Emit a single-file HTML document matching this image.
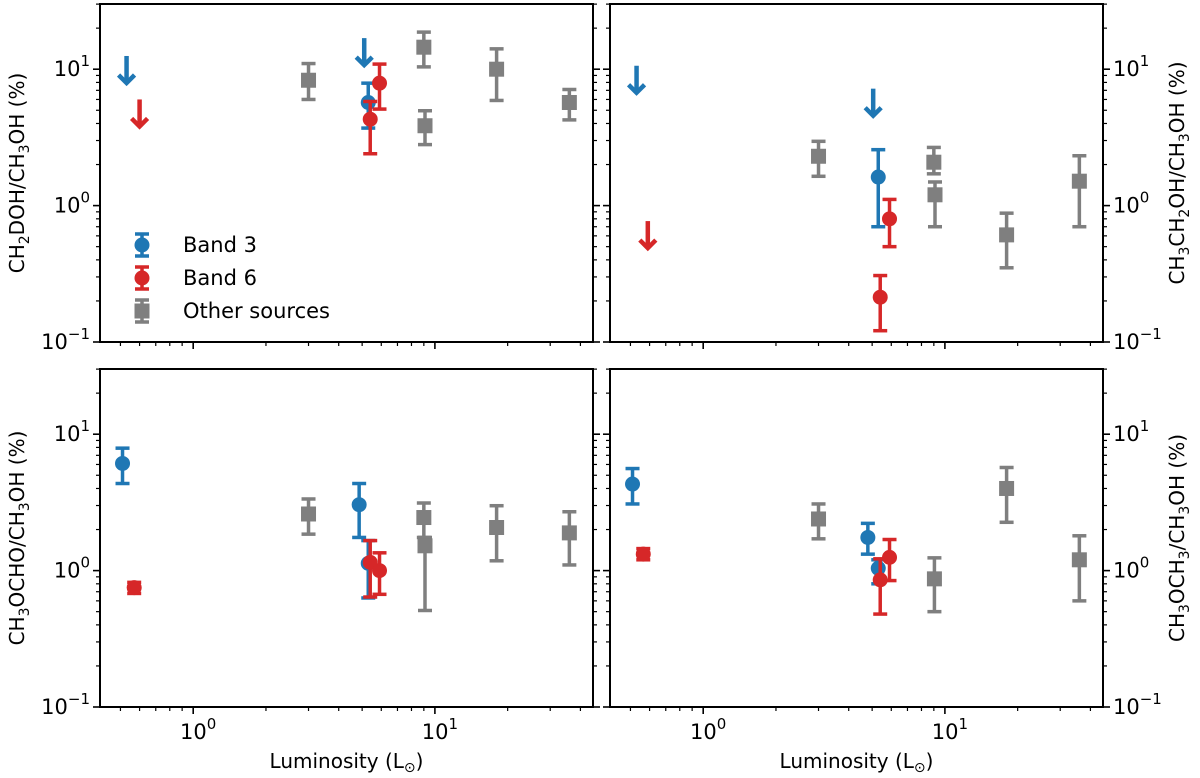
<!DOCTYPE html>
<html><head><meta charset="utf-8">
<style>
html,body{margin:0;padding:0;background:#fff;}
svg{display:block;font-family:"DejaVu Sans","Liberation Sans",sans-serif;}
</style></head>
<body>
<svg id="fig" width="1200" height="778" viewBox="0 0 1200 778" xmlns="http://www.w3.org/2000/svg"></svg>
<script>
// ---- data ----
const otherL = [3.0, 9.0, 9.1, 18, 36];
const otherL4 = [3.0, 9.05, 18, 36];

const p1OtherVal = [8.3, 14.5, 3.85, 10, 5.7];
const p1OtherLo = [6.0, 10.4, 2.8, 5.9, 4.25];
const p1OtherHi = [11, 18.7, 4.96, 14.1, 7.1];
const p1B3L = [0.53, 5.1, 5.3];
const p1B3Val = [12.5, 16.9, 5.7];
const p1B3Lo = [null, null, 3.7];
const p1B3Hi = [null, null, 7.9];
const p1B3Up = [1, 1, 0];
const p1B6L = [0.6, 5.4, 5.9];
const p1B6Val = [6.0, 4.3, 7.9];
const p1B6Lo = [null, 2.4, 5.1];
const p1B6Hi = [null, 5.8, 10.9];
const p1B6Up = [1, 0, 0];

const p2OtherVal = [2.3, 2.08, 1.2, 0.61, 1.51];
const p2OtherLo = [1.64, 1.71, 0.70, 0.35, 0.70];
const p2OtherHi = [2.96, 2.67, 1.49, 0.88, 2.32];
const p2B3L = [0.53, 5.05, 5.3];
const p2B3Val = [10.6, 7.2, 1.62];
const p2B3Lo = [null, null, 0.70];
const p2B3Hi = [null, null, 2.57];
const p2B3Up = [1, 1, 0];
const p2B6L = [0.59, 5.4, 5.9];
const p2B6Val = [0.77, 0.213, 0.80];
const p2B6Lo = [null, 0.121, 0.50];
const p2B6Hi = [null, 0.307, 1.11];
const p2B6Up = [1, 0, 0];

const p3OtherVal = [2.6, 2.45, 1.52, 2.07, 1.89];
const p3OtherLo = [1.85, 1.75, 0.51, 1.18, 1.10];
const p3OtherHi = [3.35, 3.13, 1.75, 2.99, 2.7];
const p3B3L = [0.51, 4.86, 5.3];
const p3B3Val = [6.1, 3.04, 1.13];
const p3B3Lo = [4.35, 1.75, 0.63];
const p3B3Hi = [7.9, 4.35, 1.66];
const p3B3Up = [0, 0, 0];
const p3B6L = [0.57, 5.4, 5.9];
const p3B6Val = [0.75, 1.15, 1.0];
const p3B6Lo = [0.68, 0.64, 0.67];
const p3B6Hi = [0.82, 1.66, 1.35];
const p3B6Up = [0, 0, 0];

const p4OtherVal = [2.39, 0.87, 4.0, 1.2];
const p4OtherLo = [1.71, 0.50, 2.26, 0.60];
const p4OtherHi = [3.08, 1.24, 5.7, 1.8];
const p4B3L = [0.51, 4.8, 5.3];
const p4B3Val = [4.31, 1.75, 1.04];
const p4B3Lo = [3.08, 1.32, 0.80];
const p4B3Hi = [5.6, 2.22, 1.2];
const p4B3Up = [0, 0, 0];
const p4B6L = [0.565, 5.4, 5.9];
const p4B6Val = [1.32, 0.855, 1.25];
const p4B6Lo = [1.2, 0.48, 0.845];
const p4B6Hi = [1.45, 1.22, 1.69];
const p4B6Up = [0, 0, 0];

const xTickVals = [1, 10];
const xTickExp = ["0", "1"];
const yTickVals = [10, 1, 0.1];
const yTickExp = ["1", "0", "\u22121"];

// ---- drawing ----
const NS = "http://www.w3.org/2000/svg";
const svg = document.getElementById("fig");
const BLUE = "#1f77b4", RED = "#d62728", GRAY = "#7f7f7f";
const W = 493, H = 338;
const XLMIN = -0.3856, XDEC = 241.7;
const YLMAX = 1.478, YDEC = 136.4;

function el(tag, attrs, parent) {
  const e = document.createElementNS(NS, tag);
  for (const k in attrs) e.setAttribute(k, attrs[k]);
  (parent || svg).appendChild(e);
  return e;
}
function makeX(p) { return v => p.left + (Math.log10(v) - XLMIN) * XDEC; }
function makeY(p) { return v => p.top + (YLMAX - Math.log10(v)) * YDEC; }

function powLabel(g, x, y, exp, anchor) {
  const t = el("text", {x: x, y: y, "font-size": 21, fill: "#000", "text-anchor": anchor}, g);
  const a = document.createElementNS(NS, "tspan"); a.textContent = "10"; t.appendChild(a);
  const b = document.createElementNS(NS, "tspan");
  b.setAttribute("dy", -10); b.setAttribute("font-size", 15); b.textContent = exp; t.appendChild(b);
  return t;
}

function drawPanel(p) {
  const g = el("g", {});
  
  
  const X = makeX(p), Y = makeY(p);
  const L = p.left, R = p.left + W, T = p.top, B = p.top + H;
  for (let d = -1; d <= 1; d++) {
    for (let m = 1; m <= 9; m++) {
      const v = m * Math.pow(10, d);
      if (v < 0.1 || Math.log10(v) > YLMAX) continue;
      const y = Y(v), len = m === 1 ? 7 : 4;
      el("line", {x1: L - len, x2: L, y1: y, y2: y, stroke: "#000", "stroke-width": m === 1 ? 1.6 : 1.2}, g);
      el("line", {x1: R, x2: R + len, y1: y, y2: y, stroke: "#000", "stroke-width": m === 1 ? 1.6 : 1.2}, g);
    }
  }
  for (let d = -1; d <= 1; d++) {
    for (let m = 1; m <= 9; m++) {
      const v = m * Math.pow(10, d);
      const lv = Math.log10(v);
      if (lv < XLMIN || lv > XLMIN + W / XDEC) continue;
      const x = X(v), len = m === 1 ? 7 : 4;
      el("line", {x1: x, x2: x, y1: B, y2: B + len, stroke: "#000", "stroke-width": m === 1 ? 1.6 : 1.2}, g);
    }
  }
  const fr = el("rect", {x: L, y: T, width: W, height: H, fill: "none", stroke: "#000", "stroke-width": 2}, g);
  
  
  yTickVals.forEach((v, i) => {
    const t = p.right ? powLabel(g, R + 10, Y(v) + 7, yTickExp[i], "start") : powLabel(g, L - 10, Y(v) + 7, yTickExp[i], "end");
    
    
  });
  if (p.bottom) {
    xTickVals.forEach((v, i) => {
      const t = powLabel(g, X(v) + 5, B + 32, xTickExp[i], "middle");
      
      
    });
    const xt = el("text", {x: L + W / 2, y: 768, "font-size": 20, "text-anchor": "middle", fill: "#000"}, g);
    xt.innerHTML = 'Luminosity (L<tspan font-size="14" dy="4">\u2299</tspan><tspan dy="-4">)</tspan>';
    
    
  }
  const tx = p.right ? 1184 : 24, ty = T + H / 2;
  const yt = el("text", {x: tx, y: ty, "font-size": 20, "text-anchor": "middle", fill: "#000", transform: "rotate(-90 " + tx + " " + ty + ")"}, g);
  yt.innerHTML = p.ytitle;
  
  

  drawSeries(g, X, Y, p.oL, p.oV, p.oLo, p.oHi, null, GRAY, "square", "other-sources-point");
  drawSeries(g, X, Y, p.b3L, p.b3V, p.b3Lo, p.b3Hi, p.b3Up, BLUE, "circle", "band3-point");
  drawSeries(g, X, Y, p.b6L, p.b6V, p.b6Lo, p.b6Hi, p.b6Up, RED, "circle", "band6-point");
}

function drawSeries(g, X, Y, Ls, Vs, Los, His, Ups, color, shape, name) {
  for (let i = 0; i < Ls.length; i++) {
    const sg = el("g", {}, g);
    
    
    const x = X(Ls[i]), y = Y(Vs[i]);
    if (Ups && Ups[i]) {
      const tip = y + 30;
      el("line", {x1: x, x2: x, y1: y, y2: tip - 5, stroke: color, "stroke-width": 4.5}, sg);
      el("polyline", {points: (x - 8) + "," + (tip - 11) + " " + x + "," + (tip - 3) + " " + (x + 8) + "," + (tip - 11), fill: "none", stroke: color, "stroke-width": 4.5, "stroke-linejoin": "miter"}, sg);
      continue;
    }
    if (Los[i] != null) {
      const y1 = Y(His[i]), y2 = Y(Los[i]);
      el("line", {x1: x, x2: x, y1: y1, y2: y2, stroke: color, "stroke-width": 3.5}, sg);
      el("line", {x1: x - 7, x2: x + 7, y1: y1, y2: y1, stroke: color, "stroke-width": 3.5}, sg);
      el("line", {x1: x - 7, x2: x + 7, y1: y2, y2: y2, stroke: color, "stroke-width": 3.5}, sg);
    }
    if (shape === "circle") el("circle", {cx: x, cy: y, r: 7.5, fill: color}, sg);
    else el("rect", {x: x - 7.5, y: y - 7.5, width: 15, height: 15, fill: color}, sg);
  }
}

const sub = s => '<tspan font-size="14" dy="5">' + s + '</tspan><tspan dy="-5">';
const panels = [
  {name: "panel-ch2doh", left: 100, top: 4, right: false, bottom: false,
   ytitle: 'CH' + sub('2') + 'DOH/CH</tspan>' + sub('3') + 'OH (%)</tspan>',
   oL: otherL, oV: p1OtherVal, oLo: p1OtherLo, oHi: p1OtherHi,
   b3L: p1B3L, b3V: p1B3Val, b3Lo: p1B3Lo, b3Hi: p1B3Hi, b3Up: p1B3Up,
   b6L: p1B6L, b6V: p1B6Val, b6Lo: p1B6Lo, b6Hi: p1B6Hi, b6Up: p1B6Up},
  {name: "panel-ch3ch2oh", left: 610, top: 4, right: true, bottom: false,
   ytitle: 'CH' + sub('3') + 'CH</tspan>' + sub('2') + 'OH/CH</tspan>' + sub('3') + 'OH (%)</tspan>',
   oL: otherL, oV: p2OtherVal, oLo: p2OtherLo, oHi: p2OtherHi,
   b3L: p2B3L, b3V: p2B3Val, b3Lo: p2B3Lo, b3Hi: p2B3Hi, b3Up: p2B3Up,
   b6L: p2B6L, b6V: p2B6Val, b6Lo: p2B6Lo, b6Hi: p2B6Hi, b6Up: p2B6Up},
  {name: "panel-ch3ocho", left: 100, top: 369, right: false, bottom: true,
   ytitle: 'CH' + sub('3') + 'OCHO/CH</tspan>' + sub('3') + 'OH (%)</tspan>',
   oL: otherL, oV: p3OtherVal, oLo: p3OtherLo, oHi: p3OtherHi,
   b3L: p3B3L, b3V: p3B3Val, b3Lo: p3B3Lo, b3Hi: p3B3Hi, b3Up: p3B3Up,
   b6L: p3B6L, b6V: p3B6Val, b6Lo: p3B6Lo, b6Hi: p3B6Hi, b6Up: p3B6Up},
  {name: "panel-ch3och3", left: 610, top: 369, right: true, bottom: true,
   ytitle: 'CH' + sub('3') + 'OCH</tspan>' + sub('3') + '/CH</tspan>' + sub('3') + 'OH (%)</tspan>',
   oL: otherL4, oV: p4OtherVal, oLo: p4OtherLo, oHi: p4OtherHi,
   b3L: p4B3L, b3V: p4B3Val, b3Lo: p4B3Lo, b3Hi: p4B3Hi, b3Up: p4B3Up,
   b6L: p4B6L, b6V: p4B6Val, b6Lo: p4B6Lo, b6Hi: p4B6Hi, b6Up: p4B6Up}
];
panels.forEach(drawPanel);

const lg = el("g", {});


const legItems = [["Band 3", BLUE, "circle", 245], ["Band 6", RED, "circle", 278], ["Other sources", GRAY, "square", 311]];
legItems.forEach(it => {
  const eg = el("g", {}, lg);
  
  
  const x = 142, y = it[3];
  el("line", {x1: x, x2: x, y1: y - 11, y2: y + 11, stroke: it[1], "stroke-width": 3.5}, eg);
  el("line", {x1: x - 7, x2: x + 7, y1: y - 11, y2: y - 11, stroke: it[1], "stroke-width": 3.5}, eg);
  el("line", {x1: x - 7, x2: x + 7, y1: y + 11, y2: y + 11, stroke: it[1], "stroke-width": 3.5}, eg);
  if (it[2] === "circle") el("circle", {cx: x, cy: y, r: 7.5, fill: it[1]}, eg);
  else el("rect", {x: x - 7.5, y: y - 7.5, width: 15, height: 15, fill: it[1]}, eg);
  const t = el("text", {x: 183, y: y + 7, "font-size": 21, fill: "#000"}, eg);
  t.textContent = it[0];
});
</script>
</body></html>
